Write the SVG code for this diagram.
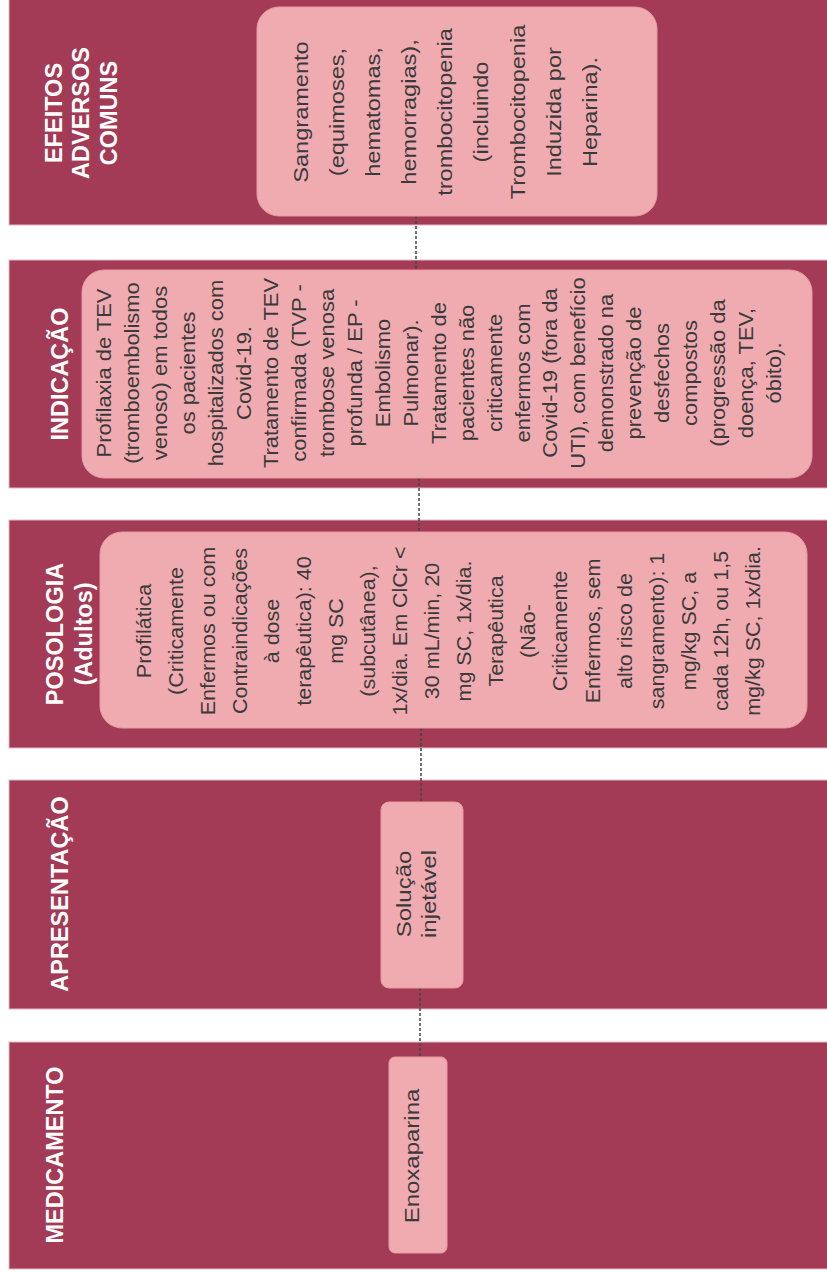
<svg xmlns="http://www.w3.org/2000/svg" width="827" height="1272" viewBox="0 0 827 1272">
<style>
.band{fill:#A33B57;stroke:#E2B9C4;stroke-width:1}
.box{fill:#F0ABB1;stroke:#E79AA3;stroke-width:1}
.hd{font-family:"Liberation Sans",Arial,sans-serif;font-weight:bold;font-size:23.5px;fill:#FFFFFF;text-anchor:middle}
.tx{font-family:"Liberation Sans",Arial,sans-serif;font-size:20.5px;fill:#3A3A3A;text-anchor:middle}
.con{stroke:#444444;stroke-width:1.5;stroke-dasharray:3 2;fill:none}
</style>
<rect width="827" height="1272" fill="#FFFFFF"/>
<g id="band-efeitos">
<rect class="band" x="9" y="-2" width="820" height="227"/>
<g transform="translate(0,113) rotate(-90)">
<text class="hd" x="0" y="62">EFEITOS</text>
<text class="hd" x="0" y="89">ADVERSOS</text>
<text class="hd" x="0" y="117">COMUNS</text>
</g>
</g>
<g id="band-indicacao">
<rect class="band" x="9" y="260" width="820" height="228"/>
<g transform="translate(0,374) rotate(-90)">
<text class="hd" x="0" y="68">INDICAÇÃO</text>
</g>
</g>
<g id="band-posologia">
<rect class="band" x="9" y="520" width="820" height="228"/>
<g transform="translate(0,634) rotate(-90)">
<text class="hd" x="0" y="63">POSOLOGIA</text>
<text class="hd" x="0" y="92">(Adultos)</text>
</g>
</g>
<g id="band-apresentacao">
<rect class="band" x="9" y="780" width="820" height="229"/>
<g transform="translate(0,894) rotate(-90)">
<text class="hd" x="0" y="68">APRESENTAÇÃO</text>
</g>
</g>
<g id="band-medicamento">
<rect class="band" x="9" y="1042" width="820" height="227"/>
<g transform="translate(0,1155) rotate(-90)">
<text class="hd" x="0" y="63">MEDICAMENTO</text>
</g>
</g>
<g id="connectors">
<line class="con" x1="416" y1="216" x2="416" y2="270"/>
<line class="con" x1="419" y1="478" x2="419" y2="532"/>
<line class="con" x1="421" y1="728" x2="421" y2="802"/>
<line class="con" x1="420" y1="988" x2="420" y2="1057"/>
</g>
<g id="node-efeitos">
<rect class="box" x="257" y="7" width="400" height="209" rx="22"/>
<g transform="translate(0,112) rotate(-90) scale(1.15,1)">
<text class="tx" x="0" y="308">Sangramento</text>
<text class="tx" x="0" y="344">(equimoses,</text>
<text class="tx" x="0" y="380">hematomas,</text>
<text class="tx" x="0" y="416">hemorragias),</text>
<text class="tx" x="0" y="452">trombocitopenia</text>
<text class="tx" x="0" y="488">(incluindo</text>
<text class="tx" x="0" y="525">Trombocitopenia</text>
<text class="tx" x="0" y="561">Induzida por</text>
<text class="tx" x="0" y="597">Heparina).</text>
</g>
</g>
<g id="node-indicacao">
<rect class="box" x="82" y="270" width="730" height="208" rx="22"/>
<g transform="translate(0,373) rotate(-90) scale(1.07,1)">
<text class="tx" x="0" y="111">Profilaxia de TEV</text>
<text class="tx" x="0" y="139">(tromboembolismo</text>
<text class="tx" x="0" y="167">venoso) em todos</text>
<text class="tx" x="0" y="195">os pacientes</text>
<text class="tx" x="0" y="223">hospitalizados com</text>
<text class="tx" x="0" y="251">Covid-19.</text>
<text class="tx" x="0" y="278">Tratamento de TEV</text>
<text class="tx" x="0" y="306">confirmada (TVP -</text>
<text class="tx" x="0" y="334">trombose venosa</text>
<text class="tx" x="0" y="362">profunda / EP -</text>
<text class="tx" x="0" y="390">Embolismo</text>
<text class="tx" x="0" y="418">Pulmonar).</text>
<text class="tx" x="0" y="446">Tratamento de</text>
<text class="tx" x="0" y="474">pacientes não</text>
<text class="tx" x="0" y="502">criticamente</text>
<text class="tx" x="0" y="530">enfermos com</text>
<text class="tx" x="0" y="557">Covid-19 (fora da</text>
<text class="tx" x="0" y="585">UTI), com benefício</text>
<text class="tx" x="0" y="613">demonstrado na</text>
<text class="tx" x="0" y="641">prevenção de</text>
<text class="tx" x="0" y="669">desfechos</text>
<text class="tx" x="0" y="697">compostos</text>
<text class="tx" x="0" y="725">(progressão da</text>
<text class="tx" x="0" y="753">doença, TEV,</text>
<text class="tx" x="0" y="781">óbito).</text>
</g>
</g>
<g id="node-posologia">
<rect class="box" x="100" y="532" width="707" height="196" rx="22"/>
<g transform="translate(0,631) rotate(-90) scale(1.05,1)">
<text class="tx" x="0" y="151">Profilática</text>
<text class="tx" x="0" y="183">(Criticamente</text>
<text class="tx" x="0" y="215">Enfermos ou com</text>
<text class="tx" x="0" y="247">Contraindicações</text>
<text class="tx" x="0" y="279">à dose</text>
<text class="tx" x="0" y="311">terapêutica): 40</text>
<text class="tx" x="0" y="343">mg SC</text>
<text class="tx" x="0" y="375">(subcutânea),</text>
<text class="tx" x="0" y="407">1x/dia. Em ClCr &lt;</text>
<text class="tx" x="0" y="439">30 mL/min, 20</text>
<text class="tx" x="0" y="471">mg SC, 1x/dia.</text>
<text class="tx" x="0" y="503">Terapêutica</text>
<text class="tx" x="0" y="535">(Não-</text>
<text class="tx" x="0" y="567">Criticamente</text>
<text class="tx" x="0" y="600">Enfermos, sem</text>
<text class="tx" x="0" y="632">alto risco de</text>
<text class="tx" x="0" y="664">sangramento): 1</text>
<text class="tx" x="0" y="696">mg/kg SC, a</text>
<text class="tx" x="0" y="728">cada 12h, ou 1,5</text>
<text class="tx" x="0" y="760">mg/kg SC, 1x/dia.</text>
</g>
</g>
<g id="node-apresentacao">
<rect class="box" x="381" y="802" width="82" height="186" rx="8"/>
<g transform="translate(0,894) rotate(-90) scale(1.17,1)">
<text class="tx" x="0" y="411">Solução</text>
<text class="tx" x="0" y="436">injetável</text>
</g>
</g>
<g id="node-medicamento">
<rect class="box" x="389" y="1057" width="58" height="196" rx="6"/>
<g transform="translate(0,1156) rotate(-90) scale(1.17,1)">
<text class="tx" x="0" y="419">Enoxaparina</text>
</g>
</g>
</svg>
